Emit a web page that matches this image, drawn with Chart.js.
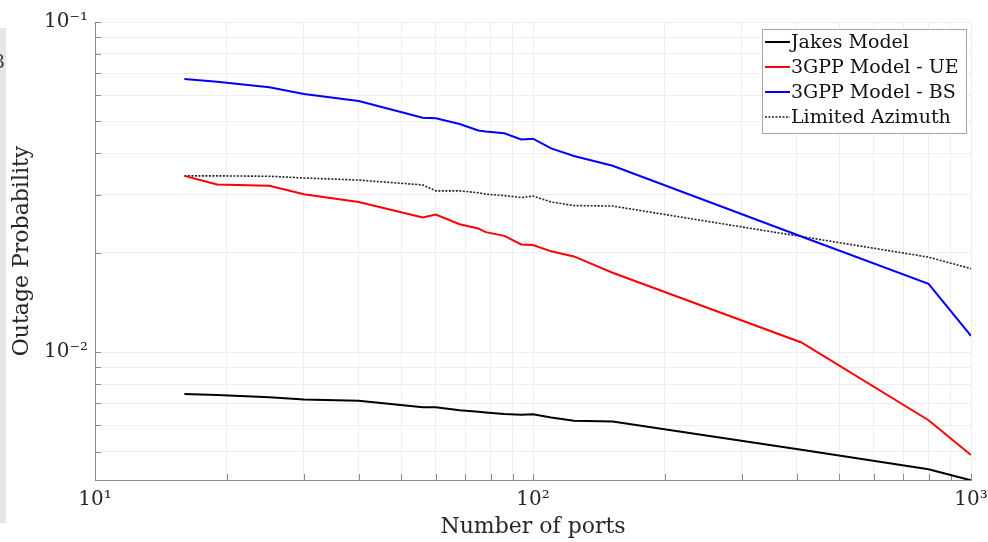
<!DOCTYPE html>
<html>
<head>
<meta charset="utf-8">
<script src="https://cdn.jsdelivr.net/npm/chart.js@4.4.0/dist/chart.umd.min.js"></script>
<style>
  html, body { margin: 0; padding: 0; background: #fff; }
  #wrap { width: 988px; height: 542px; }
</style>
</head>
<body>
<div id="wrap"><canvas id="grafico" width="988" height="542"></canvas></div>
<script>
// datos
const ports = [16, 19, 25, 30, 40, 56, 60, 68, 75, 78, 86, 94, 100, 110, 124, 152, 410, 800, 1000];
const jakes = [0.00747, 0.00742, 0.00730, 0.00719, 0.00713, 0.00681, 0.00681, 0.00667, 0.00660, 0.00657, 0.00650, 0.00646, 0.00648, 0.00634, 0.00620, 0.00617, 0.00506, 0.00442, 0.00409];
const gppUE = [0.0342, 0.0322, 0.0319, 0.0301, 0.0285, 0.0256, 0.0261, 0.0244, 0.0237, 0.0231, 0.0225, 0.0212, 0.0211, 0.0202, 0.0195, 0.0174, 0.0107, 0.00622, 0.00488];
const gppBS = [0.0672, 0.0659, 0.0634, 0.0605, 0.0576, 0.0513, 0.0511, 0.0491, 0.0469, 0.0466, 0.0460, 0.0441, 0.0443, 0.0414, 0.0393, 0.0367, 0.0224, 0.0161, 0.0112];
const limAz = [0.0342, 0.0342, 0.0341, 0.0337, 0.0332, 0.0321, 0.0308, 0.0308, 0.0304, 0.0301, 0.0298, 0.0294, 0.0297, 0.0285, 0.0278, 0.0277, 0.0224, 0.0194, 0.0179];

const seriesNames = ['Jakes Model', '3GPP Model - UE', '3GPP Model - BS', 'Limited Azimuth'];

// ticks (incluye los menores para la rejilla)
const xTicks = [10, 20, 30, 40, 50, 60, 70, 80, 90, 100, 200, 300, 400, 500, 600, 700, 800, 900, 1000];
const xMajor = [10, 100, 1000];
const xMajorLabels = ['10¹', '10²', '10³'];
const yTicks = [0.005, 0.006, 0.007, 0.008, 0.009, 0.01, 0.02, 0.03, 0.04, 0.05, 0.06, 0.07, 0.08, 0.09, 0.1];
const yMajor = [0.01, 0.1];
const yMajorLabels = ['10⁻²', '10⁻¹'];

const serif = "'DejaVu Serif', 'Liberation Serif', serif";
const txtColor = '#262626';

function pares(ys) {
  return ports.map((p, i) => ({ x: p, y: ys[i] }));
}

function etiqueta(v, majors, labels) {
  for (let i = 0; i < majors.length; i++) {
    if (Math.abs(v - majors[i]) / majors[i] < 1e-6) return labels[i];
  }
  return '';
}

// marcas hacia dentro, leyenda y la franja gris de la izquierda
const extras = {
  id: 'extras',
  beforeDatasetsDraw(chart) {
    const ctx = chart.ctx;
    const xs = chart.scales.x, ys = chart.scales.y;
    const a = chart.chartArea;
    ctx.save();
    ctx.strokeStyle = '#8a8a8a';
    ctx.lineWidth = 1;
    ctx.beginPath();
    xTicks.forEach(v => {
      const px = Math.round(xs.getPixelForValue(v)) + 0.5;
      ctx.moveTo(px, a.bottom);
      ctx.lineTo(px, a.bottom - 6);
    });
    yTicks.forEach(v => {
      const py = Math.round(ys.getPixelForValue(v)) + 0.5;
      ctx.moveTo(a.left, py);
      ctx.lineTo(a.left + 6, py);
    });
    ctx.stroke();

    ctx.fillStyle = '#e6e6e6';
    ctx.fillRect(0, 28, 6, 495);
    ctx.fillStyle = '#333';
    ctx.font = '18px ' + serif;
    ctx.textAlign = 'right';
    ctx.textBaseline = 'alphabetic';
    ctx.fillText('3', 5, 68);
    ctx.restore();
  },
  afterDraw(chart) {
    const ctx = chart.ctx;
    const bx = 762.5, by = 29.5, bw = 204, bh = 104;
    ctx.save();
    ctx.fillStyle = '#fff';
    ctx.fillRect(bx, by, bw, bh);
    ctx.strokeStyle = '#a6a6a6';
    ctx.lineWidth = 1;
    ctx.strokeRect(bx, by, bw, bh);
    ctx.font = '19px ' + serif;
    ctx.textBaseline = 'middle';
    ctx.textAlign = 'left';
    chart.data.datasets.forEach((ds, i) => {
      const yy = 42 + i * 25;
      ctx.strokeStyle = ds.borderColor;
      ctx.lineWidth = ds.borderWidth;
      ctx.setLineDash(ds.borderDash || []);
      ctx.beginPath();
      ctx.moveTo(765, yy);
      ctx.lineTo(790, yy);
      ctx.stroke();
      ctx.setLineDash([]);
      ctx.fillStyle = '#111';
      ctx.fillText(ds.label, 791, yy + 1);
    });
    ctx.restore();
  }
};

const ctx = document.getElementById('grafico').getContext('2d');
new Chart(ctx, {
  type: 'line',
  data: {
    datasets: [
      { label: seriesNames[0], data: pares(jakes), borderColor: '#000000', borderWidth: 2 },
      { label: seriesNames[1], data: pares(gppUE), borderColor: '#ff0000', borderWidth: 2 },
      { label: seriesNames[2], data: pares(gppBS), borderColor: '#0000ff', borderWidth: 2 },
      { label: seriesNames[3], data: pares(limAz), borderColor: '#222222', borderWidth: 1.6, borderDash: [2, 1.5] }
    ]
  },
  options: {
    responsive: false,
    animation: false,
    layout: { padding: { top: 22, right: 17, left: 0, bottom: 0 } },
    elements: {
      point: { radius: 0 },
      line: { tension: 0, fill: false }
    },
    plugins: {
      legend: { display: false },
      tooltip: { enabled: false }
    },
    scales: {
      x: {
        type: 'logarithmic',
        min: 10,
        max: 1000,
        afterBuildTicks: s => { s.ticks = xTicks.map(v => ({ value: v })); },
        afterFit: s => { s.height = 62; s.paddingLeft = 0; s.paddingRight = 0; },
        ticks: {
          autoSkip: false,
          maxRotation: 0,
          padding: 8,
          color: txtColor,
          font: { family: serif, size: 20 },
          callback: v => etiqueta(v, xMajor, xMajorLabels)
        },
        grid: { color: '#eeeeee', drawTicks: false },
        border: { display: true, color: '#8a8a8a', width: 1 },
        title: {
          display: true,
          text: 'Number of ports',
          color: txtColor,
          font: { family: serif, size: 22 },
          padding: { top: 0, bottom: 2 }
        }
      },
      y: {
        type: 'logarithmic',
        min: 0.0041,
        max: 0.1,
        afterBuildTicks: s => { s.ticks = yTicks.map(v => ({ value: v })); },
        afterFit: s => { s.width = 95; s.paddingTop = 0; s.paddingBottom = 0; },
        ticks: {
          autoSkip: false,
          padding: 7,
          color: txtColor,
          font: { family: serif, size: 20 },
          callback: v => etiqueta(v, yMajor, yMajorLabels)
        },
        grid: { color: '#eeeeee', drawTicks: false },
        border: { display: true, color: '#8a8a8a', width: 1 },
        title: {
          display: true,
          text: 'Outage Probability',
          color: txtColor,
          font: { family: serif, size: 22 },
          padding: { top: 9, bottom: 0 }
        }
      }
    }
  },
  plugins: [extras]
});
</script>
</body>
</html>
